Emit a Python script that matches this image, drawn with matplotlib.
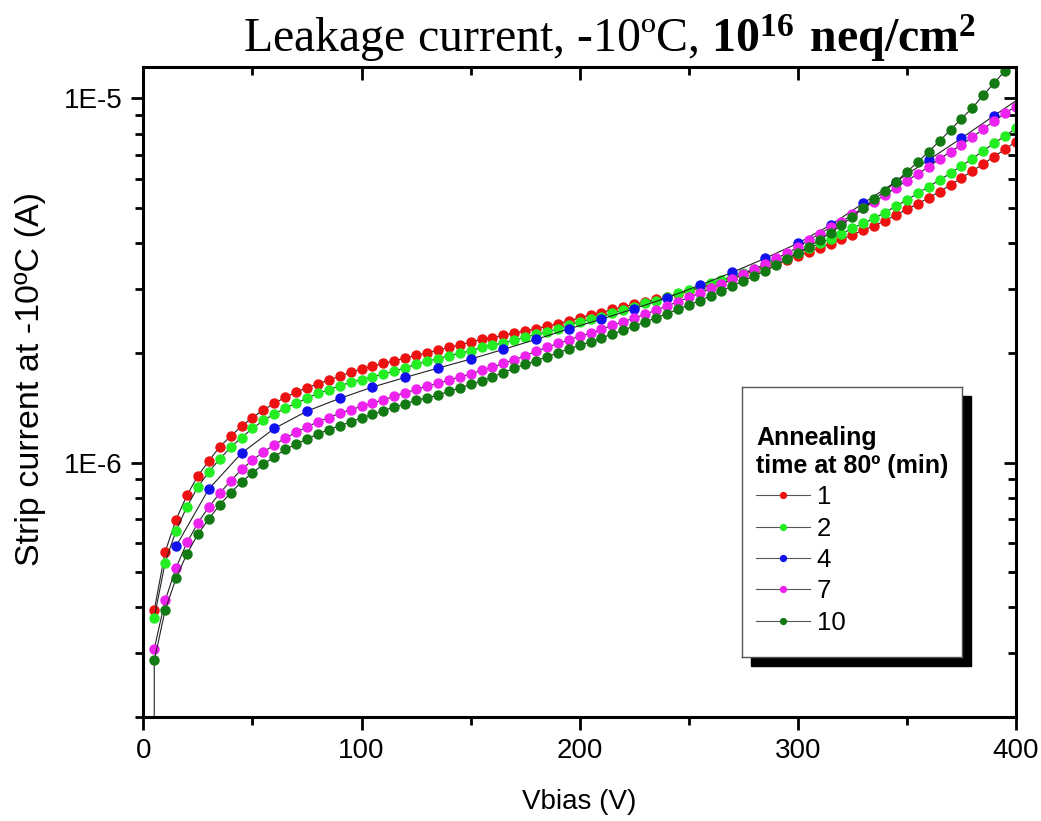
import math
import matplotlib
matplotlib.use('Agg')
import matplotlib.pyplot as plt
import matplotlib.ticker as ticker
from matplotlib.patches import Rectangle

plt.rcParams['font.family'] = ['Liberation Sans', 'DejaVu Sans']
plt.rcParams['mathtext.fontset'] = 'custom'
plt.rcParams['mathtext.rm'] = 'Liberation Serif'
plt.rcParams['mathtext.bf'] = 'Liberation Serif:bold'

# bias voltages (V), currents in uA
v_5 = list(range(5, 405, 5))
v_15 = list(range(15, 420, 15))

i_1min = [0.393, 0.568, 0.697, 0.813, 0.919, 1.010, 1.104, 1.181, 1.258, 1.329,
          1.393, 1.455, 1.509, 1.561, 1.604, 1.645, 1.684, 1.727, 1.769, 1.805,
          1.840, 1.872, 1.903, 1.935, 1.969, 2.001, 2.036, 2.071, 2.101, 2.142,
          2.178, 2.200, 2.234, 2.271, 2.296, 2.330, 2.371, 2.405, 2.447, 2.498,
          2.541, 2.578, 2.634, 2.678, 2.719, 2.764, 2.807, 2.842, 2.902, 2.952,
          3.015, 3.078, 3.145, 3.211, 3.283, 3.357, 3.437, 3.516, 3.599, 3.692,
          3.780, 3.890, 3.983, 4.104, 4.217, 4.352, 4.472, 4.616, 4.786, 4.962,
          5.131, 5.340, 5.546, 5.786, 6.049, 6.323, 6.610, 6.923, 7.255, 7.613]

i_2min = [0.375, 0.531, 0.650, 0.757, 0.857, 0.942, 1.023, 1.100, 1.171, 1.240,
          1.305, 1.358, 1.410, 1.455, 1.502, 1.548, 1.584, 1.624, 1.660, 1.688,
          1.720, 1.749, 1.782, 1.820, 1.860, 1.896, 1.929, 1.964, 1.994, 2.027,
          2.071, 2.101, 2.132, 2.169, 2.206, 2.248, 2.286, 2.330, 2.381, 2.436,
          2.473, 2.514, 2.569, 2.623, 2.678, 2.736, 2.782, 2.842, 2.915, 2.976,
          3.028, 3.105, 3.171, 3.246, 3.321, 3.400, 3.487, 3.570, 3.661, 3.755,
          3.876, 4.001, 4.111, 4.243, 4.399, 4.540, 4.687, 4.856, 5.067, 5.263,
          5.490, 5.725, 5.973, 6.231, 6.526, 6.836, 7.177, 7.536, 7.893, 8.285]

i_4min = [0.589, 0.846, 1.061, 1.240, 1.384, 1.500, 1.611, 1.713, 1.816, 1.923,
          2.045, 2.178, 2.328, 2.477, 2.645, 2.835, 3.067, 3.330, 3.638, 4.001,
          4.492, 5.154, 5.909, 6.780, 7.778, 8.974, 10.33]

i_7min = [0.308, 0.418, 0.514, 0.603, 0.682, 0.755, 0.823, 0.890, 0.957, 1.015,
          1.067, 1.118, 1.166, 1.211, 1.253, 1.293, 1.329, 1.364, 1.396, 1.426,
          1.455, 1.486, 1.522, 1.554, 1.588, 1.621, 1.649, 1.684, 1.716, 1.749,
          1.791, 1.825, 1.872, 1.915, 1.964, 2.020, 2.071, 2.124, 2.169, 2.225,
          2.263, 2.321, 2.381, 2.436, 2.494, 2.552, 2.623, 2.690, 2.764, 2.842,
          2.915, 3.009, 3.091, 3.186, 3.293, 3.393, 3.503, 3.638, 3.755, 3.900,
          4.085, 4.243, 4.427, 4.570, 4.807, 4.994, 5.207, 5.433, 5.689, 5.946,
          6.204, 6.496, 6.822, 7.145, 7.455, 7.828, 8.233, 8.678, 9.112, 9.500]

# first reading of the 10 min run sits below the axis at 5 V
v_10min = [5] + v_5
i_10min = [0.001,
           0.286, 0.393, 0.481, 0.562, 0.635, 0.700, 0.765, 0.825, 0.885, 0.936,
           0.989, 1.036, 1.086, 1.123, 1.161, 1.196, 1.232, 1.261, 1.292, 1.326,
           1.355, 1.387, 1.422, 1.447, 1.483, 1.505, 1.531, 1.568, 1.601, 1.639,
           1.673, 1.720, 1.764, 1.816, 1.860, 1.903, 1.951, 2.001, 2.051, 2.097,
           2.142, 2.200, 2.253, 2.311, 2.371, 2.431, 2.498, 2.562, 2.634, 2.707,
           2.782, 2.871, 2.963, 3.053, 3.157, 3.252, 3.364, 3.480, 3.615, 3.763,
           3.915, 4.085, 4.279, 4.492, 4.735, 4.994, 5.286, 5.582, 5.909, 6.284,
           6.694, 7.145, 7.646, 8.197, 8.804, 9.422, 10.21, 11.02, 11.93, 12.93]

labels = ['1', '2', '4', '7', '10']
colors = ['#ee1111', '#22ee22', '#1111ee', '#ee22ee', '#137a13']
series = [(v_5, i_1min), (v_5, i_2min), (v_15, i_4min), (v_5, i_7min), (v_10min, i_10min)]

fig = plt.figure(figsize=(10.41, 8.21), dpi=100)
ax = fig.add_axes([0.1377, 0.1267, 0.8383, 0.7917])

handles = []
for (v, cur), c, lab in zip(series, colors, labels):
    h, = ax.plot(v, [x * 1e-6 for x in cur], color='#222222', lw=0.8,
                 marker='o', ms=6.5, mfc=c, mec=c, label=lab)
    handles.append(h)

ax.set_yscale('log')
ax.set_xlim(0, 400)
ax.set_ylim(2.0e-7, 1.22e-5)

ax.xaxis.set_major_locator(ticker.MultipleLocator(100))
ax.xaxis.set_minor_locator(ticker.MultipleLocator(50))
ax.yaxis.set_major_locator(ticker.LogLocator(base=10))
ax.yaxis.set_minor_locator(ticker.LogLocator(base=10, subs=range(2, 10)))
ax.yaxis.set_minor_formatter(ticker.NullFormatter())
ax.yaxis.set_major_formatter(ticker.FuncFormatter(lambda y, p: '1E%d' % round(math.log10(y))))

for s in ax.spines.values():
    s.set_linewidth(2.2)
ax.tick_params(which='both', direction='out', width=2, labelsize=20, pad=6)
ax.tick_params(which='major', length=9)
ax.tick_params(which='minor', length=6)

# mirrored ticks on top/right, pointing inward
axt = ax.secondary_xaxis('top')
axt.xaxis.set_major_locator(ticker.MultipleLocator(100))
axt.xaxis.set_minor_locator(ticker.MultipleLocator(50))
axt.tick_params(which='both', direction='in', width=2, labeltop=False)
axt.tick_params(which='major', length=9)
axt.tick_params(which='minor', length=6)
axr = ax.secondary_yaxis('right')
axr.set_yscale('log')
axr.yaxis.set_minor_locator(ticker.LogLocator(base=10, subs=range(2, 10)))
axr.tick_params(which='both', direction='in', width=2, labelright=False)
axr.tick_params(which='major', length=9)
axr.tick_params(which='minor', length=6)

ax.set_xlabel('Vbias (V)', fontsize=20, labelpad=18)
ax.set_ylabel('Strip current at -10ºC (A)', fontsize=24.5)
ax.yaxis.set_label_coords(-0.112, 0.52)

fig.text(0.586, 0.953, r'Leakage current, -10ºC, $\mathbf{10^{16}\ neq/cm^{2}}$',
         ha='center', va='center', fontsize=34.5, family='Liberation Serif')

# legend box with black drop shadow
lx0, ly0, lw_, lh_ = 0.7125, 0.2001, 0.2113, 0.3282
fig.patches.append(Rectangle((lx0 + 0.0087, ly0 - 0.011), lw_, lh_, transform=fig.transFigure,
                             facecolor='black', edgecolor='black', zorder=5))
lax = fig.add_axes([lx0, ly0, lw_, lh_], zorder=6)
lax.set_xticks([])
lax.set_yticks([])
for s in lax.spines.values():
    s.set_linewidth(1.0)
    s.set_edgecolor('#555555')
leg = lax.legend(handles, labels, loc='upper left', bbox_to_anchor=(0.02, 0.895),
                 frameon=False, fontsize=18.5, markerscale=0.65, handlelength=2.1,
                 handletextpad=0.25, labelspacing=0.29, borderaxespad=0,
                 title='Annealing\ntime at 80º (min)', alignment='left',
                 title_fontproperties={'weight': 'bold', 'size': 18})
for h in leg.legend_handles:
    h.set_color('#555555')

fig.savefig('out.png', dpi=100)
